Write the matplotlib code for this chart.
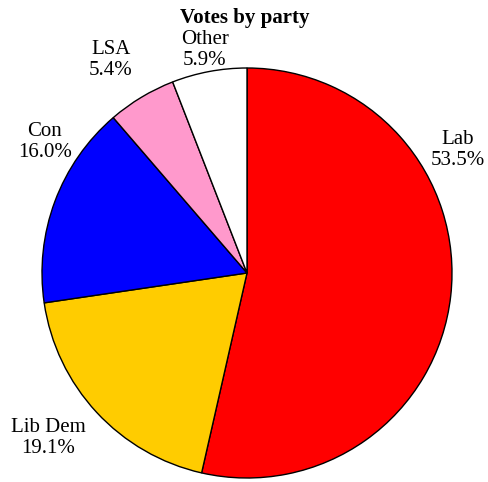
import matplotlib
matplotlib.use("Agg")
import matplotlib.pyplot as plt

parties = ["Lab", "Lib Dem", "Con", "LSA", "Other"]
shares = [53.5, 19.1, 16.0, 5.4, 5.9]
colors = ["#FF0000", "#FFCC00", "#0000FF", "#FF99CC", "#FFFFFF"]
title = "Votes by party"

# label block centres in pixels (x, y from top)
label_px = [(458, 150), (48, 438), (45, 142), (111, 60), (205, 50)]

W, H = 489, 482
cx, cy, R = 247, 273, 205

plt.rcParams['font.family'] = ['Liberation Serif', 'DejaVu Serif']
fig = plt.figure(figsize=(W / 100, H / 100), dpi=100)
ax = fig.add_axes([0, 0, 1, 1])
ax.pie(shares, colors=colors, startangle=90, counterclock=False,
       wedgeprops=dict(edgecolor="black", linewidth=1.0))
ax.set_xlim(-cx / R, (W - cx) / R)
ax.set_ylim(-(H - cy) / R, cy / R)
ax.set_aspect('auto')
ax.axis('off')

for name, v, (px, py) in zip(parties, shares, label_px):
    ax.text((px - cx) / R, (cy - py) / R, f"{name}\n{v:.1f}%", ha='center', va='center',
            fontsize=15, linespacing=1.2)

fig.text(245 / W, 1 - 18 / H, title, ha='center', va='center', fontsize=15, fontweight='bold')
fig.savefig("out.png", dpi=100)
